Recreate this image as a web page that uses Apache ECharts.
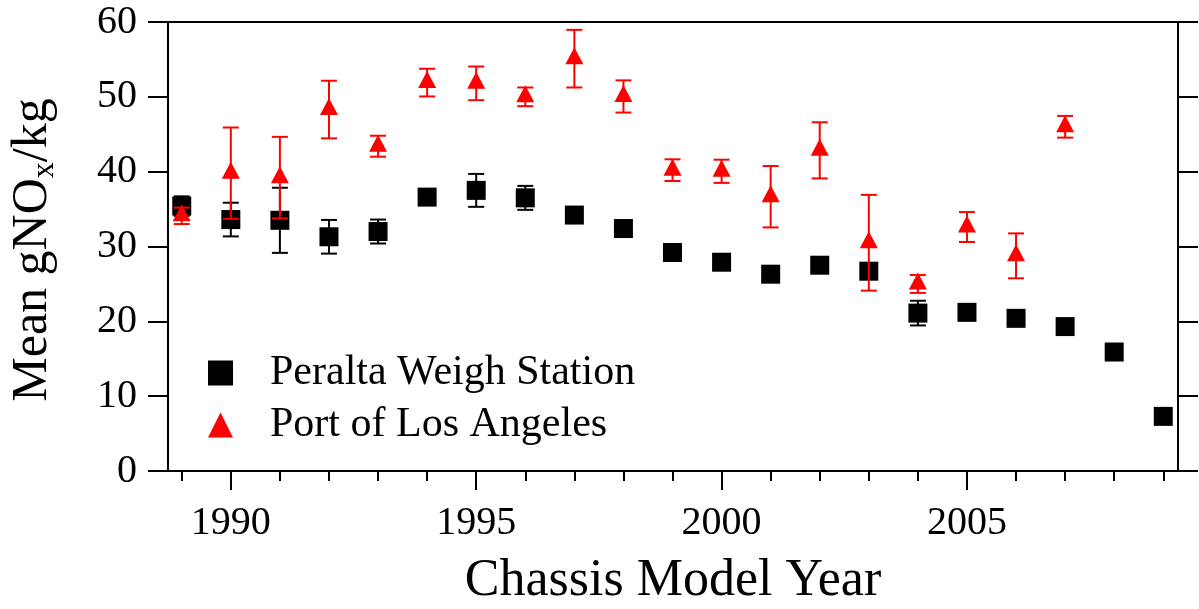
<!DOCTYPE html>
<html>
<head>
<meta charset="utf-8">
<title>Mean gNOx/kg by Chassis Model Year</title>
<script src="https://cdn.jsdelivr.net/npm/echarts@6.0.0/dist/echarts.min.js"></script>
<style>
  html, body { margin: 0; padding: 0; background: #fff; }
  #chart { width: 1199px; height: 609px; }
</style>
</head>
<body>
<div id="chart"></div>
<script>
// 数据：每个年份的平均值和误差
var peraltaYears = [1989, 1990, 1991, 1992, 1993, 1994, 1995, 1996, 1997, 1998, 1999, 2000, 2001, 2002, 2003, 2004, 2005, 2006, 2007, 2008, 2009];
var peraltaMean  = [35.4, 33.6, 33.5, 31.3, 32.0, 36.6, 37.5, 36.5, 34.2, 32.4, 29.2, 27.9, 26.3, 27.5, 26.7, 21.1, 21.2, 20.4, 19.3, 15.9, 7.3];
var peraltaErr   = [1.3, 2.25, 4.35, 2.25, 1.6, 0.8, 2.2, 1.6, 0.8, 0.8, 0.8, 0.8, 0.8, 0.8, 0.8, 1.65, 0.8, 0.8, 0.8, 0.8, 0.8];

var laYears = [1989, 1990, 1991, 1992, 1993, 1994, 1995, 1996, 1997, 1998, 1999, 2000, 2001, 2002, 2003, 2004, 2005, 2006, 2007];
var laMean  = [34.1, 39.8, 39.2, 48.3, 43.4, 51.9, 51.8, 50.0, 55.1, 50.05, 40.2, 40.05, 36.65, 42.85, 30.5, 25.0, 32.6, 28.75, 46.0];
var laErr   = [1.1, 6.1, 5.45, 3.85, 1.4, 1.85, 2.25, 1.25, 3.85, 2.15, 1.45, 1.55, 4.1, 3.75, 6.4, 1.2, 2.0, 3.0, 1.45];

var minorTickYears = [1989, 1990, 1991, 1992, 1993, 1994, 1995, 1996, 1997, 1998, 1999, 2000, 2001, 2002, 2003, 2004, 2005, 2006, 2007, 2008, 2009];
var majorTickYears = [1990, 1995, 2000, 2005];

var seriesNames = ["Peralta Weigh Station", "Port of Los Angeles"];

var FONT = "Liberation Serif";
var xMin = 1988.72, xMax = 2009.3;

function points(xs, ys){
	var arr = [];
	for(var i=0; i<xs.length; i++){
		arr.push([xs[i], ys[i]]);
	}
	return arr;
}

function errRows(xs, ys, es){
	var arr = [];
	for(var i=0; i<xs.length; i++){
		arr.push([xs[i], ys[i]-es[i], ys[i]+es[i]]);
	}
	return arr;
}

// 误差线：竖线加上下两个横帽
function errorBar(color){
	return function(params, api){
		var x = api.value(0);
		var hi = api.coord([x, api.value(2)]);
		var lo = api.coord([x, api.value(1)]);
		var w = 8;
		var st = {stroke: color, lineWidth: 2};
		return {
			type: 'group',
			children: [
				{type: 'line', shape: {x1: hi[0], y1: hi[1], x2: lo[0], y2: lo[1]}, style: st},
				{type: 'line', shape: {x1: hi[0]-w, y1: hi[1], x2: hi[0]+w, y2: hi[1]}, style: st},
				{type: 'line', shape: {x1: lo[0]-w, y1: lo[1], x2: lo[0]+w, y2: lo[1]}, style: st}
			]
		};
	};
}

var myChart = echarts.init(document.getElementById('chart'));

var option = {
	animation: false,
	backgroundColor: '#fff',
	grid: {
		left: 168, right: 21, top: 22, bottom: 138,
		outerBoundsMode: 'none',
		show: true, borderColor: '#000', borderWidth: 2, backgroundColor: 'transparent'
	},
	legend: {
		orient: 'vertical',
		left: 203, top: 347,
		itemWidth: 25, itemHeight: 25, itemGap: 10,
		selectedMode: false,
		textStyle: {fontFamily: FONT, fontSize: 42, color: '#000', padding: [0, 0, 0, 32]},
		data: [{name: seriesNames[0], icon: 'rect'}, {name: seriesNames[1], icon: 'triangle'}]
	},
	graphic: [{
		type: 'text',
		x: 33, y: 250,
		rotation: Math.PI / 2,
		style: {
			text: 'Mean gNO{sub|x}/kg',
			fontFamily: FONT, fontSize: 50, fill: '#000',
			align: 'center', verticalAlign: 'middle',
			rich: {
				sub: {fontFamily: FONT, fontSize: 32, fill: '#000', verticalAlign: 'bottom', padding: [24, 0, 0, 0]}
			}
		}
	}],
	xAxis: [{
		type: 'value',
		min: xMin, max: xMax,
		position: 'bottom',
		name: 'Chassis Model Year',
		nameLocation: 'middle',
		nameGap: 84,
		nameTextStyle: {fontFamily: FONT, fontSize: 52, color: '#000'},
		axisLine: {show: true, lineStyle: {color: '#000', width: 2}},
		axisTick: {show: true, inside: false, length: 10, customValues: minorTickYears, lineStyle: {color: '#000', width: 2}},
		axisLabel: {
			show: true, customValues: majorTickYears, margin: 32,
			fontFamily: FONT, fontSize: 40, color: '#000',
			formatter: function(v){ return String(v); }
		},
		splitLine: {show: false}
	}, {
		type: 'value',
		min: xMin, max: xMax,
		position: 'bottom',
		axisLine: {show: false},
		axisTick: {show: true, inside: false, length: 19, customValues: majorTickYears, lineStyle: {color: '#000', width: 2}},
		axisLabel: {show: false},
		splitLine: {show: false}
	}],
	yAxis: [{
		type: 'value',
		min: 0, max: 60, interval: 10,
		position: 'left',
		axisLine: {show: true, lineStyle: {color: '#000', width: 2}},
		axisTick: {show: true, inside: false, length: 20, lineStyle: {color: '#000', width: 2}},
		axisLabel: {margin: 31, fontFamily: FONT, fontSize: 40, color: '#000'},
		splitLine: {show: false}
	}, {
		type: 'value',
		min: 0, max: 60, interval: 10,
		position: 'right',
		axisLine: {show: true, lineStyle: {color: '#000', width: 2}},
		axisTick: {show: true, inside: false, length: 20, lineStyle: {color: '#000', width: 2}},
		axisLabel: {show: false},
		splitLine: {show: false}
	}],
	series: [{
		name: 'peralta-err',
		type: 'custom',
		renderItem: errorBar('#000'),
		encode: {x: 0, y: [1, 2]},
		z: 2,
		data: errRows(peraltaYears, peraltaMean, peraltaErr)
	}, {
		name: seriesNames[0],
		type: 'scatter',
		symbol: 'rect',
		symbolSize: 19,
		itemStyle: {color: '#000', opacity: 1},
		z: 3,
		data: points(peraltaYears, peraltaMean)
	}, {
		name: 'la-err',
		type: 'custom',
		renderItem: errorBar('#ff0000'),
		encode: {x: 0, y: [1, 2]},
		z: 4,
		data: errRows(laYears, laMean, laErr)
	}, {
		name: seriesNames[1],
		type: 'scatter',
		symbol: 'triangle',
		symbolSize: [18, 17],
		symbolOffset: [0, -3],
		itemStyle: {color: '#ff0000', opacity: 1},
		z: 5,
		data: points(laYears, laMean)
	}]
};

myChart.setOption(option);
</script>
</body>
</html>
